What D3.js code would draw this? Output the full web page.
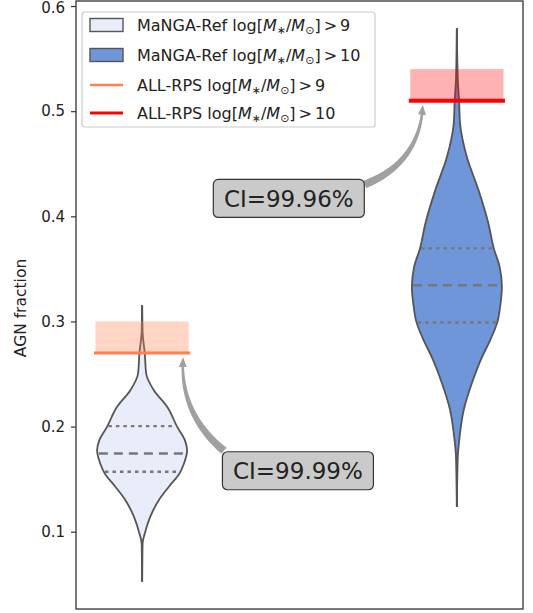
<!DOCTYPE html>
<html>
<head>
<meta charset="utf-8">
<script src="https://cdn.jsdelivr.net/npm/d3@7"></script>
<style>
  html, body { margin: 0; padding: 0; background: #fff; }
  svg { display: block; font-family: "DejaVu Sans", sans-serif; }
</style>
</head>
<body>
<svg id="chart" width="533" height="613"></svg>
<script>
// ---------------- data ----------------
const categories = ["MaNGA-Ref >9", "MaNGA-Ref >10"];
const positions = [0, 1];
const yTicks = [0.1, 0.2, 0.3, 0.4, 0.5, 0.6];

// violin profiles: value and relative density
const violin1Values  = [0.0525, 0.0888, 0.0983, 0.1141, 0.130, 0.1426, 0.1554, 0.1649, 0.1775, 0.1871, 0.1997, 0.2187, 0.2346, 0.2505, 0.2695, 0.290, 0.3155];
const violin1Density = [0.0,    0.01,   0.06,   0.18,   0.37,  0.59,   0.83,   0.93,   1.0,    0.95,   0.78,   0.56,   0.26,   0.09,   0.06,   0.01,  0.0];
const violin2Values  = [0.1236, 0.1712, 0.1902, 0.2156, 0.241, 0.2663, 0.2822, 0.2996, 0.3139, 0.3329, 0.3519, 0.3695, 0.3932, 0.4249, 0.4566, 0.4884, 0.5089, 0.530, 0.579];
const violin2Density = [0.0,    0.02,   0.06,   0.15,   0.33,  0.56,   0.74,   0.90,   0.96,   1.0,    0.95,   0.82,   0.70,   0.48,   0.22,   0.07,   0.05,   0.02,  0.0];
const quartiles1 = [0.157, 0.1744, 0.2004];
const quartiles2 = [0.299, 0.3345, 0.3695];

// ALL-RPS values and upper bounds
const rpsValues = [0.27, 0.51];
const rpsUpper  = [0.30, 0.54];

// annotations
const ciLabels = ["CI=99.99%", "CI=99.96%"];
const ciBoxX = [0.495, 0.466];
const ciBoxY = [0.158, 0.417];
const arrowTipX = [0.13, 0.892];
const arrowTipY = [0.266, 0.506];

const legendLabels = [
  {pre: "MaNGA-Ref", post: "9"},
  {pre: "MaNGA-Ref", post: "10"},
  {pre: "ALL-RPS", post: "9"},
  {pre: "ALL-RPS", post: "10"}
];

// ---------------- styles ----------------
const violinFill = ["#e8edf9", "#6e96d9"];
const rpsColor = ["#ff7f50", "#ff0000"];
const rpsWidth = [3, 4];
const outline = "#555555";
const VIOLIN_HALF = 0.143;
const BAR_HALF = 0.148;

const svg = d3.select("#chart");
const L = 76, R = 523, T = 1, B = 609;
const x = d3.scaleLinear().domain([-0.21, 1.21]).range([L, R]);
const y = d3.scaleLinear().domain([0.0265, 0.6048]).range([B, T]);

const violins = [
  {vals: violin1Values, dens: violin1Density, q: quartiles1},
  {vals: violin2Values, dens: violin2Density, q: quartiles2}
];

function halfAt(v, vals, dens) {
  const interp = d3.scaleLinear().domain(vals).range(dens).clamp(true);
  return interp(v) * VIOLIN_HALF;
}

const g = svg.append("g");

violins.forEach((vi, i) => {
  const cx = positions[i];
  // center line (extrema)
  g.append("line")
    .attr("x1", x(cx)).attr("x2", x(cx))
    .attr("y1", y(d3.min(vi.vals))).attr("y2", y(d3.max(vi.vals)))
    .attr("stroke", outline).attr("stroke-width", 2);
  const pts = vi.vals.map((v, k) => ({v, d: vi.dens[k]}));
  const area = d3.area()
    .y(d => y(d.v))
    .x0(d => x(cx - d.d * VIOLIN_HALF))
    .x1(d => x(cx + d.d * VIOLIN_HALF))
    .curve(d3.curveMonotoneY);
  g.append("path").datum(pts)
    .attr("d", area)
    .attr("fill", violinFill[i])
    .attr("stroke", outline).attr("stroke-width", 1.8);
  // quartile lines
  vi.q.forEach((qv, k) => {
    const hw = halfAt(qv, vi.vals, vi.dens);
    g.append("line")
      .attr("x1", x(cx - hw) + 1).attr("x2", x(cx + hw) - 1)
      .attr("y1", y(qv)).attr("y2", y(qv))
      .attr("stroke", "#777").attr("stroke-width", 2.4)
      .attr("stroke-dasharray", k === 1 ? "9,6" : "3.5,4");
  });
  // RPS shaded range + line
  g.append("rect")
    .attr("x", x(cx - BAR_HALF)).attr("width", x(cx + BAR_HALF) - x(cx - BAR_HALF))
    .attr("y", y(rpsUpper[i])).attr("height", y(rpsValues[i]) - y(rpsUpper[i]))
    .attr("fill", rpsColor[i]).attr("fill-opacity", i === 0 ? 0.33 : 0.3);
  g.append("line")
    .attr("x1", x(cx - BAR_HALF) - 1.5).attr("x2", x(cx + BAR_HALF) + 1.5)
    .attr("y1", y(rpsValues[i])).attr("y2", y(rpsValues[i]))
    .attr("stroke", rpsColor[i]).attr("stroke-width", rpsWidth[i]);
});

// ---------------- frame & axis ----------------
svg.append("rect")
  .attr("x", L).attr("y", T).attr("width", R - L).attr("height", B - T)
  .attr("fill", "none").attr("stroke", "#333").attr("stroke-width", 1.3);

const yAxis = svg.append("g")
  .attr("transform", `translate(${L},0)`)
  .call(d3.axisLeft(y).tickValues(yTicks).tickFormat(d3.format(".1f")).tickSize(5).tickPadding(6));
yAxis.select(".domain").remove();
yAxis.selectAll("line").attr("stroke", "#333").attr("stroke-width", 1.2);
yAxis.selectAll("text").attr("font-size", 15).attr("fill", "#222").attr("font-family", "DejaVu Sans");
yAxis.selectAll(".tick").filter(d => d === 0.6).select("text").attr("dy", "0.4em");

svg.append("text")
  .attr("transform", `translate(26,${(T + B) / 2 + 3}) rotate(-90)`)
  .attr("text-anchor", "middle")
  .attr("font-size", 15.5).attr("fill", "#222")
  .text("AGN fraction");

// ---------------- arrows & annotation boxes ----------------
function fancyArrow(p0, c, p2, w0, w1, headW, headL, color) {
  const N = 80;
  const pts = d3.range(N + 1).map(k => {
    const t = k / N, a = (1 - t) * (1 - t), b = 2 * (1 - t) * t, cc = t * t;
    return [a * p0[0] + b * c[0] + cc * p2[0], a * p0[1] + b * c[1] + cc * p2[1]];
  });
  const lens = [0];
  for (let k = 1; k <= N; k++) lens.push(lens[k - 1] + Math.hypot(pts[k][0] - pts[k - 1][0], pts[k][1] - pts[k - 1][1]));
  const total = lens[N];
  const body = pts.filter((p, k) => lens[k] <= total - headL);
  const left = [], right = [];
  body.forEach((p, k) => {
    const q = body[Math.min(k + 1, body.length - 1)], o = body[Math.max(k - 1, 0)];
    let dx = q[0] - o[0], dy = q[1] - o[1];
    const n = Math.hypot(dx, dy) || 1; dx /= n; dy /= n;
    const f = k / (body.length - 1);
    const w = (w0 + (w1 - w0) * f) / 2;
    left.push([p[0] - dy * w, p[1] + dx * w]);
    right.push([p[0] + dy * w, p[1] - dx * w]);
  });
  const base = body[body.length - 1], prev = body[body.length - 2];
  let dx = base[0] - prev[0], dy = base[1] - prev[1];
  const n = Math.hypot(dx, dy); dx /= n; dy /= n;
  const hw = headW / 2;
  const poly = left.concat([[base[0] - dy * hw, base[1] + dx * hw], p2, [base[0] + dy * hw, base[1] - dx * hw]]).concat(right.reverse());
  svg.append("path")
    .attr("d", "M" + poly.map(p => p[0].toFixed(2) + "," + p[1].toFixed(2)).join("L") + "Z")
    .attr("fill", color);
}

const boxW = 151, boxH = 38;
const arrowCtrl = [[-24, 10], [26, 18]]; // control offsets (px) relative to chord midpoint
const tailOff = [[-74, -20], [76, -14]];   // tail relative to box centre
ciLabels.forEach((lab, i) => {
  const bx = x(ciBoxX[i]), by = y(ciBoxY[i]);
  const tail = [bx + tailOff[i][0], by + tailOff[i][1]];
  const tip = [x(arrowTipX[i]), y(arrowTipY[i])];
  const ctrl = [(tail[0] + tip[0]) / 2 + arrowCtrl[i][0], (tail[1] + tip[1]) / 2 + arrowCtrl[i][1]];
  fancyArrow(tail, ctrl, tip, 8, 2.5, 8, 9, "#a0a0a0");
  svg.append("rect")
    .attr("x", bx - boxW / 2).attr("y", by - boxH / 2)
    .attr("width", boxW).attr("height", boxH).attr("rx", 5)
    .attr("fill", "#cacaca").attr("stroke", "#333").attr("stroke-width", 1.2);
  svg.append("text")
    .attr("x", bx).attr("y", by + 8.5)
    .attr("text-anchor", "middle").attr("font-size", 23).attr("fill", "#222")
    .text(lab);
});

// ---------------- legend ----------------
const lg = svg.append("g");
lg.append("rect").attr("x", 82).attr("y", 12).attr("width", 293).attr("height", 115)
  .attr("rx", 3).attr("fill", "#fff").attr("fill-opacity", 0.85)
  .attr("stroke", "#ccc").attr("stroke-width", 1.2);
const rowY = [25, 55, 85, 113];
legendLabels.forEach((lab, i) => {
  const cy = rowY[i];
  if (i < 2) {
    lg.append("rect").attr("x", 90).attr("y", cy - 6.5).attr("width", 33).attr("height", 13)
      .attr("fill", violinFill[i]).attr("stroke", outline).attr("stroke-width", 1.4);
  } else {
    lg.append("line").attr("x1", 90).attr("x2", 123).attr("y1", cy).attr("y2", cy)
      .attr("stroke", rpsColor[i - 2]).attr("stroke-width", i === 2 ? 2.5 : 3);
  }
  const t = lg.append("text").attr("x", 137).attr("y", cy + 6).attr("font-size", 16).attr("fill", "#222");
  t.append("tspan").text(lab.pre + " log[");
  t.append("tspan").attr("font-style", "italic").text("M");
  t.append("tspan").attr("font-size", 11).attr("dy", 3).text("∗");
  t.append("tspan").attr("dy", -3).text("/");
  t.append("tspan").attr("font-style", "italic").text("M");
  t.append("tspan").attr("font-size", 11).attr("dy", 3).text("⊙");
  t.append("tspan").attr("dy", -3).text("]").append("tspan").attr("dx", 3).text(">").append("tspan").attr("dx", 3).text(lab.post);
});
</script>
</body>
</html>
